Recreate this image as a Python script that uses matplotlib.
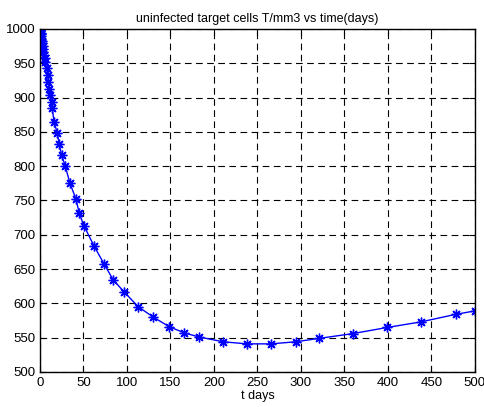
import numpy as np
import matplotlib
matplotlib.use('Agg')
import matplotlib.pyplot as plt

# solver time points (days) and uninfected target cells T (per mm3)
t_days = [0, 0.2, 0.4, 0.7, 1.0, 1.3, 1.7, 2.1, 2.5, 3.0, 3.5, 4.0, 4.6, 5.2,
          5.7, 7.7, 8.8, 9.6, 10.7, 11.5, 13.4, 14.2, 16.1, 19.9, 22.2, 24.9,
          29.1, 34.5, 41.4, 45.2, 50.6, 62.4, 73.9, 84.3, 96.6, 113, 130.3,
          148.6, 165.9, 183.1, 210.7, 238.0, 265.5, 293.9, 321, 360, 399.6,
          438, 478, 500]
T_cells = [1000, 998, 997, 994, 992, 989, 986, 982, 979, 975, 971, 967, 962, 957,
           952, 943, 933, 923, 913, 904, 894, 884, 865, 848, 832, 816,
           800, 775, 752, 731, 713, 683, 657, 634, 617, 595, 580,
           566, 557, 551, 544, 541, 541, 544, 549, 556, 565,
           573, 584, 589]

plt.rcParams['font.family'] = ['Liberation Sans', 'DejaVu Sans']
fig = plt.figure(figsize=(4.84, 4.07), dpi=100)
ax = fig.add_axes([0.0826, 0.086, 0.8984, 0.843])

# matlab style '*' marker: + and x on top of each other
ax.plot(t_days, T_cells, color='blue', marker=(8, 2, 0), markersize=7,
        markeredgewidth=1, linewidth=1)
ax.set_xlim(0, 500)
ax.set_ylim(500, 1000)
ax.set_xticks(np.arange(0, 501, 50))
ax.set_yticks(np.arange(500, 1001, 50))
ax.grid(True, color='black', linestyle=(0, (6, 4)), linewidth=0.8)
ax.tick_params(direction='in', top=True, right=True, labelsize=9.5, length=4)
for s in ax.spines.values():
    s.set_linewidth(1)
ax.set_title('uninfected target cells T/mm3 vs time(days)', fontsize=9, pad=5)
ax.set_xlabel('t days', fontsize=9, labelpad=1)

fig.savefig('out.png', dpi=100)
